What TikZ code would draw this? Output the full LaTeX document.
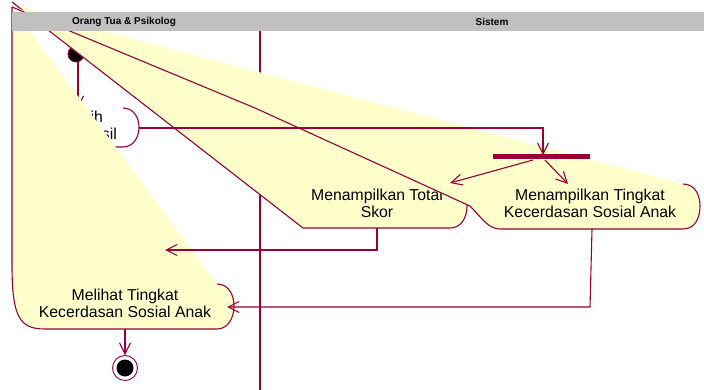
\documentclass[tikz,border=0pt]{standalone}
\usepackage{fontspec}
\setmainfont{Liberation Sans}
\usepackage{xcolor}
\usetikzlibrary{arrows.meta}
\definecolor{rosered}{RGB}{153,0,51}
\definecolor{actfill}{RGB}{255,255,204}
\definecolor{hdrgray}{RGB}{192,192,192}

\begin{document}
\begin{tikzpicture}[x=1pt, y=-1pt,
        act/.style={fill=actfill, draw=none},
        edge/.style={draw=rosered, line width=1.1pt, line join=round},
        arrow/.style={-{Straight Barb[length=11pt, width=11pt]}, draw=rosered, line width=1.1pt},
        lbl/.style={font=\fontsize{15.8}{17}\selectfont, align=center, inner sep=0pt},
        lane/.style={font=\fontsize{10}{12}\selectfont\bfseries, inner sep=0pt},
    ]
        \useasboundingbox (0,0) rectangle (704,390);

        % Corners (the collapsed corners sit at the top left)
        \coordinate (O) at (12,7);
        \coordinate (Oc) at (12,2);
        \coordinate (aTR) at (217,284);
        \coordinate (aBR) at (217,329);
        \coordinate (bTR) at (123,108);
        \coordinate (bBR) at (123,147);
        \coordinate (bRight) at (139,128);
        \coordinate (bTop) at (78,108);
        \coordinate (cTR) at (450,185);
        \coordinate (cBR) at (450,228);
        \coordinate (cBL) at (303,228);
        \coordinate (dTR) at (683,184);
        \coordinate (dBR) at (683,229);
        \coordinate (dBL) at (500,229);
        \coordinate (dMid) at (255,108);
        \coordinate (dBend) at (470,206);

        % Swimlane divider
        \draw[rosered, line width=1.3pt] (260,31) -- (260,390);

        % Start
        \node[circle, fill=black, draw=rosered, line width=0.8pt, minimum size=16pt, inner sep=0pt] (start) at (76,54) {};

        % Left lane, first activity
        \draw[edge] (bTR) .. controls (133,108) and (139,117) .. (139,127)
            .. controls (139,138) and (133,147) .. (bBR) -- (110,147);
        \node[lbl, anchor=base east] (bTxt1) at (103,123) {ih};
        \node[lbl, anchor=base east] (bTxt2) at (117,140) {sil};
        \draw[arrow] (start.south -| bTop) -- (bTop);

        % Left lane, last activity
        \fill[act] (O) -- (aTR) .. controls (228,284) and (234,294) .. (234,306)
            .. controls (234,318) and (228,329) .. (aBR) -- (45,329)
            .. controls (20,329) and (12,318) .. (12,265) -- cycle;
        \draw[edge] (O) -- (12,265) .. controls (12,318) and (20,329) .. (45,329) -- (aBR)
            .. controls (228,329) and (234,318) .. (234,306)
            .. controls (234,294) and (228,284) .. (aTR);
        \node[lbl] (aTxt) at (125,303) {Melihat Tingkat\\Kecerdasan Sosial Anak};

        % Sistem lane
        \fill[act] (Oc) -- (cTR) .. controls (461,185) and (467,195) .. (467,206)
            .. controls (467,218) and (461,228) .. (cBR) -- (cBL) -- cycle;
        \draw[edge] (Oc) -- (cBL) -- (cBR) .. controls (461,228) and (467,218) .. (467,206)
            .. controls (467,195) and (461,185) .. (cTR);
        \node[lbl] (cTxt) at (377,203) {Menampilkan Total\\Skor};

        \fill[act] (O) -- (dTR) .. controls (695,184) and (700,195) .. (700,206)
            .. controls (700,218) and (695,229) .. (dBR) -- (dBL)
            .. controls (488,229) and (481,217) .. (dBend) -- (dMid) -- cycle;
        \draw[edge] (O) -- (dMid) -- (dBend) .. controls (481,217) and (488,229) .. (dBL) -- (dBR)
            .. controls (695,229) and (700,218) .. (700,206)
            .. controls (700,195) and (695,184) .. (dTR);
        \node[lbl] (dTxt) at (590,203) {Menampilkan Tingkat\\Kecerdasan Sosial Anak};

        % Synchronisation bar
        \node[fill=rosered, minimum width=97pt, minimum height=5pt, inner sep=0pt] (bar) at (541.5,157) {};
        \coordinate (barIn) at (543,155);
        \coordinate (barL) at (533,160);
        \coordinate (barR) at (545,160);

        % Transitions
        \coordinate (cTop) at (450,183);
        \coordinate (dTop) at (568,184);
        \coordinate (cBot) at (377,228);
        \coordinate (cEnd) at (165,250);
        \coordinate (dBot) at (592,229);
        \coordinate (dTurn) at (590,307);
        \coordinate (aIn) at (227,307);
        \coordinate (aBot) at (125,329);
        \draw[arrow] (bRight) -- (bRight -| barIn) -- (barIn);
        \draw[arrow] (barL) -- (cTop);
        \draw[arrow] (barR) -- (dTop);
        \draw[arrow] (cBot) -- (cBot |- cEnd) -- (cEnd);
        \draw[arrow] (dBot) -- (dTurn) -- (aIn);

        % End
        \node[circle, draw=rosered, line width=0.9pt, fill=white, minimum size=25pt, inner sep=0pt] (stop) at (125,368) {};
        \node[circle, fill=black, minimum size=17pt, inner sep=0pt] (stopDot) at (stop) {};
        \draw[arrow] (aBot) -- (stop);

        % Lane headers
        \fill[hdrgray] (12,12) rectangle (704,31);
        \node[lane] (laneA) at (124,21.5) {Orang Tua \& Psikolog};
        \node[lane] (laneB) at (492,21.5) {Sistem};
    \end{tikzpicture}
\end{document}
